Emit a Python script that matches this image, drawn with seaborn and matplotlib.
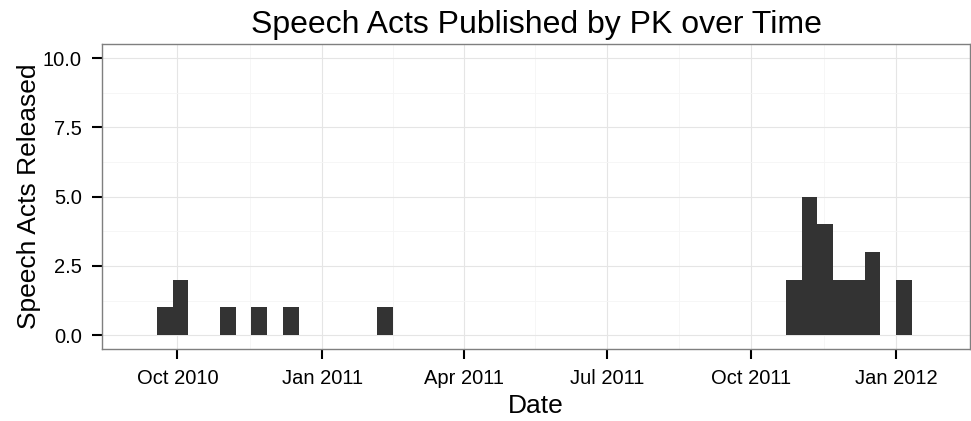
# coding: utf-8

# weekly-ish histogram of PK speech acts, ggplot theme_bw look redone with seaborn
import numpy as np
import pandas as pd
import matplotlib
matplotlib.use("Agg")
import matplotlib.pyplot as plt
import matplotlib.dates as mdates
from matplotlib.ticker import FixedLocator, FormatStrFormatter
import seaborn as sns

# start date of each 10-day bin that has releases, and how many were released
bin_starts = ["2010-09-18", "2010-09-28", "2010-10-28", "2010-11-17", "2010-12-07",
              "2011-02-05", "2011-10-23", "2011-11-02", "2011-11-12", "2011-11-22",
              "2011-12-02", "2011-12-12", "2012-01-01"]
releases = [1, 2, 1, 1, 1, 1, 2, 5, 4, 2, 2, 3, 2]

x_ticks = ["2010-10-01", "2011-01-01", "2011-04-01", "2011-07-01", "2011-10-01", "2012-01-01"]
y_ticks = [0, 2.5, 5, 7.5, 10]

sns.set_style("white")
plt.rcParams['font.family'] = ['Liberation Sans', 'DejaVu Sans']
plt.rcParams['text.color'] = 'black'
plt.rcParams['axes.labelcolor'] = 'black'

starts = mdates.date2num(pd.to_datetime(bin_starts))
first = mdates.date2num(pd.Timestamp("2010-09-18"))
df = pd.DataFrame({"date": starts + 5, "n": releases})

fig, ax = plt.subplots(figsize=(9.71, 4.21), dpi=100)
sns.histplot(data=df, x="date", weights="n", binwidth=10, binrange=(first, first + 480),
             color="#333333", alpha=1, linewidth=0, ax=ax)

ax.set_xlim(mdates.date2num(pd.Timestamp("2010-08-14")), mdates.date2num(pd.Timestamp("2012-02-17")))
ax.set_ylim(-0.5, 10.5)

xt = mdates.date2num(pd.to_datetime(x_ticks))
ax.xaxis.set_major_locator(FixedLocator(xt))
ax.xaxis.set_minor_locator(FixedLocator((xt[:-1] + xt[1:]) / 2))
ax.xaxis.set_major_formatter(mdates.DateFormatter("%b %Y"))
ax.yaxis.set_major_locator(FixedLocator(y_ticks))
ax.yaxis.set_minor_locator(FixedLocator([1.25, 3.75, 6.25, 8.75]))
ax.yaxis.set_major_formatter(FormatStrFormatter("%.1f"))

ax.grid(which="major", color="#E5E5E5", linewidth=0.8)
ax.grid(which="minor", color="#F5F5F5", linewidth=0.6)
ax.set_axisbelow(True)
for s in ax.spines.values():
    s.set_color("#7F7F7F")
    s.set_linewidth(1.0)

# seaborn's white style hides tick marks, turn them back on
ax.tick_params(which="major", bottom=True, left=True, direction="out", length=7.5,
               width=1.5, color="black", labelsize=14.5, labelcolor="black")
ax.tick_params(axis="x", pad=7)
ax.tick_params(axis="y", pad=7)
ax.tick_params(which="minor", bottom=False, left=False, length=0)

ax.set_title("Speech Acts Published by PK over Time", fontsize=23, pad=8, color="black")
ax.set_xlabel("Date", fontsize=19, labelpad=4)
ax.set_ylabel("Speech Acts Released", fontsize=19, labelpad=1)

plt.subplots_adjust(left=0.105, right=0.999, top=0.895, bottom=0.171)
plt.savefig("out.png", dpi=100)
